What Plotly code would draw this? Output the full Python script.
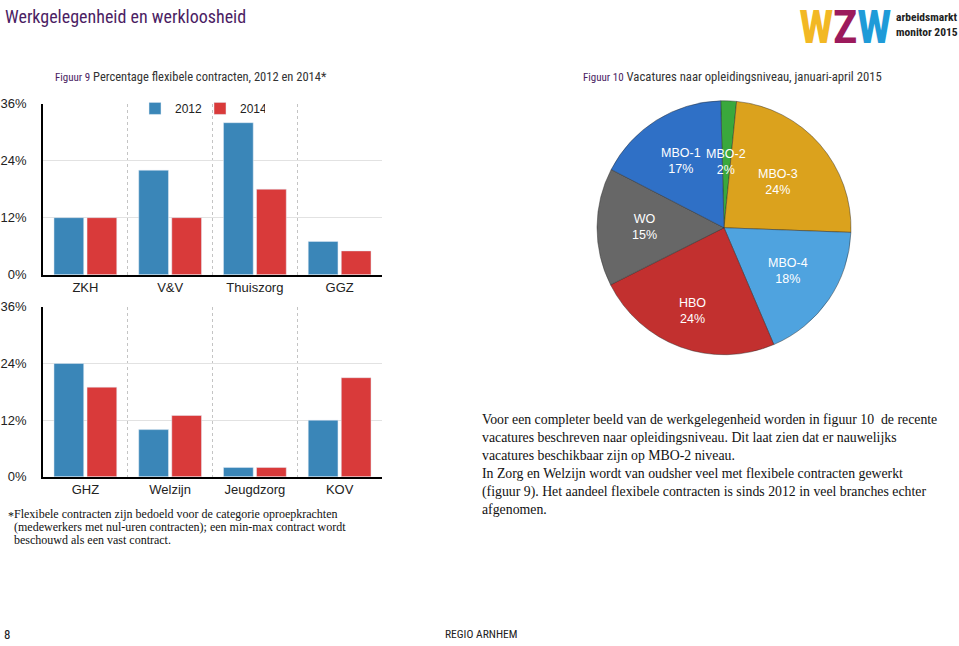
import math
import plotly.graph_objects as go

W, H = 959, 646

# ---------------- data ----------------
top_cats = ["ZKH", "V&V", "Thuiszorg", "GGZ"]
top_2012 = [12, 22, 32, 7]
top_2014 = [12, 12, 18, 5]

bot_cats = ["GHZ", "Welzijn", "Jeugdzorg", "KOV"]
bot_2012 = [24, 10, 2, 12]
bot_2014 = [19, 13, 2, 21]

y_tickvals = [0, 12, 24, 36]
y_ticktext = ["0%", "12%", "24%", "36%"]

pie_labels = ["MBO-2", "MBO-3", "MBO-4", "HBO", "WO", "MBO-1"]
pie_values = [2, 24, 18, 24, 15, 17]

footnote_lines = [
    "Flexibele contracten zijn bedoeld voor de categorie oproepkrachten",
    "(medewerkers met nul-uren contracten); een min-max contract wordt",
    "beschouwd als een vast contract.",
]

# ---------------- styles ----------------
blue = "#3a86b8"
red = "#d93a3a"
pie_colors = ["#3aa83c", "#dba21d", "#4fa3df", "#c2302f", "#676767", "#2f70c6"]
label_rf = [0.52, 0.55, 0.6, 0.7, 0.61, 0.62]
purple = "#4b1d63"
cond = "Roboto Condensed, Noto Sans Condensed, DejaVu Sans Condensed, Liberation Sans Narrow, sans-serif"
sans = "Liberation Sans, Arial, sans-serif"
serif = "Liberation Serif, DejaVu Serif, serif"


def px(x):
    return x / W


def py(y):
    return 1 - y / H


fig = go.Figure()

fig.add_trace(go.Bar(x=top_cats, y=top_2012, name="2012", marker_color=blue,
                     legendgroup="2012", xaxis="x", yaxis="y"))
fig.add_trace(go.Bar(x=top_cats, y=top_2014, name="2014", marker_color=red,
                     legendgroup="2014", xaxis="x", yaxis="y"))
fig.add_trace(go.Bar(x=bot_cats, y=bot_2012, name="2012", marker_color=blue,
                     legendgroup="2012", showlegend=False, xaxis="x2", yaxis="y2"))
fig.add_trace(go.Bar(x=bot_cats, y=bot_2014, name="2014", marker_color=red,
                     legendgroup="2014", showlegend=False, xaxis="x2", yaxis="y2"))

# pie
cx, cy, r = 724, 226, 130
rotation = -1.5
fig.add_trace(go.Pie(labels=pie_labels, values=pie_values, sort=False,
                     direction="clockwise", rotation=rotation,
                     marker=dict(colors=pie_colors,
                                 line=dict(color="rgba(40,40,40,0.55)", width=0.8)),
                     textinfo="none", showlegend=False,
                     domain=dict(x=[px(cx - r), px(cx + r)], y=[py(cy + r), py(cy - r)])))

annotations = []
total = sum(pie_values)
cum = 0
for lab, val, rf in zip(pie_labels, pie_values, label_rf):
    mid = (cum + val / 2) / total * 360 + rotation
    cum += val
    a = math.radians(mid)
    lx = cx + rf * r * math.sin(a)
    ly = cy - rf * r * math.cos(a)
    annotations.append(dict(x=px(lx), y=py(ly), xanchor="center", yanchor="middle",
                            text=f"{lab}<br>{round(val / total * 100)}%",
                            font=dict(family=sans, size=12.5, color="white")))

axis_x = dict(type="category", tickson="boundaries", showgrid=True, gridcolor="#c4c4c4",
              griddash="dot", gridwidth=1, showline=True, linecolor="black", linewidth=1.5,
              ticks="", tickfont=dict(family=sans, size=13, color="#222"),
              domain=[px(43), px(382)], fixedrange=True)
axis_y = dict(range=[0, 36], tickvals=y_tickvals, ticktext=y_ticktext, showgrid=True,
              gridcolor="#e2e2e2", gridwidth=1, showline=True, linecolor="black",
              linewidth=1.5, zeroline=False, ticks="",
              tickfont=dict(family=sans, size=13, color="#222"), ticklabelstandoff=12,
              fixedrange=True)

fig.update_layout(
    width=W, height=H, margin=dict(l=0, r=0, t=0, b=0),
    paper_bgcolor="white", plot_bgcolor="white",
    barmode="group", bargap=0.22, bargroupgap=0.1,
    xaxis=dict(axis_x, anchor="y"),
    yaxis=dict(axis_y, anchor="x", domain=[py(274), py(99)]),
    xaxis2=dict(axis_x, anchor="y2"),
    yaxis2=dict(axis_y, anchor="x2", domain=[py(481), py(307)]),
    legend=dict(orientation="h", x=px(135), y=py(89), xanchor="left", yanchor="top",
                font=dict(family=sans, size=12, color="#222"), bgcolor="rgba(0,0,0,0)",
                itemwidth=30, entrywidth=20, entrywidthmode="pixels"),
)

# titles and texts
annotations += [
    dict(x=px(3), y=py(10), xanchor="left", yanchor="middle",
         text="Werkgelegenheid en werkloosheid",
         font=dict(family=cond, size=18, color=purple)),
    dict(x=px(53), y=py(71), xanchor="left", yanchor="middle",
         text=f"<span style='font-size:11px;color:{purple}'>Figuur 9</span> Percentage flexibele contracten, 2012 en 2014*",
         font=dict(family=cond, size=12.5, color="#333")),
    dict(x=px(581), y=py(71), xanchor="left", yanchor="middle",
         text=f"<span style='font-size:11px;color:{purple}'>Figuur 10</span> Vacatures naar opleidingsniveau, januari-april 2015",
         font=dict(family=cond, size=12.7, color="#333")),
    # logo
    dict(x=px(816), y=py(20), xanchor="center", yanchor="middle", text="<b>W</b>",
         font=dict(family=cond, size=46, color="#f2b824")),
    dict(x=px(845), y=py(20), xanchor="center", yanchor="middle", text="<b>Z</b>",
         font=dict(family=cond, size=46, color="#9c1a5c")),
    dict(x=px(874), y=py(20), xanchor="center", yanchor="middle", text="<b>W</b>",
         font=dict(family=cond, size=46, color="#1f9bd8")),
    dict(x=px(894), y=py(18), xanchor="left", yanchor="middle", align="left",
         text="<b>arbeidsmarkt<br>monitor 2015</b>",
         font=dict(family=cond, size=11.5, color="#222")),
    # paragraph
    dict(x=px(480), y=py(413), xanchor="left", yanchor="top", align="left",
         text="Voor een completer beeld van de werkgelegenheid worden in figuur 10  de recente<br>"
              "vacatures beschreven naar opleidingsniveau. Dit laat zien dat er nauwelijks<br>"
              "vacatures beschikbaar zijn op MBO-2 niveau.<br>"
              "In Zorg en Welzijn wordt van oudsher veel met flexibele contracten gewerkt<br>"
              "(figuur 9). Het aandeel flexibele contracten is sinds 2012 in veel branches echter<br>"
              "afgenomen.",
         font=dict(family=serif, size=13.8, color="#111")),
    # footnote asterisk
    dict(x=px(6), y=py(521), xanchor="left", yanchor="middle", text="*",
         font=dict(family=serif, size=12, color="#111")),
    # footer
    dict(x=px(2), y=py(642), xanchor="left", yanchor="middle", text="8",
         font=dict(family=cond, size=13, color="#222")),
    dict(x=px(481), y=py(642), xanchor="center", yanchor="middle", text="REGIO ARNHEM",
         font=dict(family=cond, size=11.5, color="#222")),
]
for i, line in enumerate(footnote_lines):
    annotations.append(dict(x=px(12), y=py(519 + 13.5 * i), xanchor="left", yanchor="middle",
                            text=line, font=dict(family=serif, size=12, color="#111")))
for a in annotations:
    a.setdefault("xref", "paper")
    a.setdefault("yref", "paper")
    a.setdefault("showarrow", False)
fig.update_layout(annotations=annotations)

fig.write_html("out.html", config={"displayModeBar": False},
               post_script="document.body.style.margin='0';")
